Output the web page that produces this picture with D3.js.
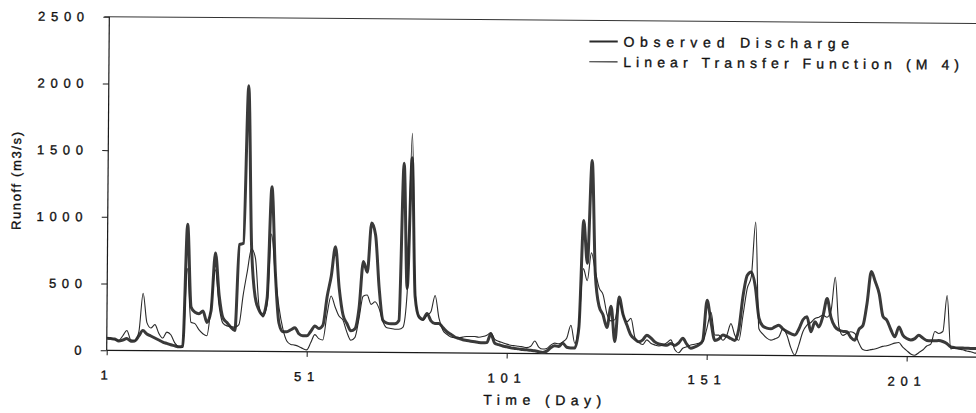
<!DOCTYPE html>
<html>
<head>
<meta charset="utf-8">
<script src="https://cdn.jsdelivr.net/npm/d3@7"></script>
<style>
  html, body { margin: 0; padding: 0; background: #fff; }
  svg { display: block; }
  text { font-family: "Liberation Sans", Arial, sans-serif; fill: #111; stroke: #111; stroke-width: 0.35px; }
</style>
</head>
<body>
<svg id="chart" width="976" height="413"></svg>
<script>
// Daily runoff, days 1..219 (m3/s)
const observedDischarge = [
  90, 88, 85, 70, 78, 90, 70, 72, 110, 150,
  125, 110, 95, 80, 65, 55, 45, 38, 30, 35,
  950, 330, 290, 280, 300, 215, 300, 735, 420, 250,
  215, 180, 155, 800, 810, 1990, 800, 410, 310, 275,
  400, 1235, 600, 215, 150, 150, 165, 180, 135, 120,
  120, 155, 195, 175, 200, 415, 570, 790, 480, 280,
  215, 160, 175, 330, 680, 600, 970, 880, 480, 240,
  220, 215, 215, 240, 1420, 480, 1460, 420, 270, 250,
  295, 240, 220, 220, 190, 160, 140, 120, 110, 100,
  95, 90, 85, 80, 78, 80, 145, 75, 65, 55,
  50, 42, 38, 35, 30, 28, 25, 22, 15, 10,
  20, 45, 60, 55, 80, 50, 45, 45, 200, 1000,
  680, 1450, 600, 360, 295, 200, 360, 95, 430, 300,
  220, 145, 115, 95, 110, 145, 125, 95, 80, 75,
  70, 85, 70, 90, 124, 80, 50, 60, 75, 110,
  410, 250, 110, 120, 150, 140, 125, 110, 200, 450,
  600, 625, 520, 280, 220, 205, 200, 215, 228, 200,
  180, 165, 155, 200, 270, 292, 180, 255, 217, 300,
  430, 290, 220, 195, 185, 182, 140, 120, 200, 230,
  400, 635, 560, 470, 300, 270, 200, 147, 222, 160,
  135, 125, 135, 160, 140, 122, 120, 120, 122, 115,
  100, 75, 70, 68, 67, 66, 65, 65, 65
];

const linearTransferM4 = [
  95, 90, 80, 75, 110, 150, 80, 75, 140, 430,
  210, 170, 195, 130, 95, 140, 120, 60, 30, 25,
  620, 215, 205, 160, 130, 115, 330, 610, 340, 210,
  190, 185, 180, 200, 420, 600, 770, 700, 340, 260,
  350, 880, 570, 330, 170, 80, 55, 50, 40, 25,
  15, 70, 130, 100, 90, 280, 420, 340, 270, 240,
  150, 90, 110, 250, 420, 430, 360, 380, 330, 230,
  185, 180, 175, 175, 190, 450, 1645, 460, 260, 245,
  280, 310, 430, 260, 170, 140, 120, 115, 115, 120,
  125, 125, 125, 120, 125, 135, 155, 105, 90, 80,
  70, 62, 58, 55, 50, 45, 55, 95, 50, 35,
  40, 65, 80, 75, 90, 120, 215, 80, 230, 640,
  550, 760, 620, 495, 445, 300, 250, 260, 395, 300,
  245, 270, 130, 90, 75, 110, 85, 73, 65, 70,
  90, 111, 40, 15, 49, 60, 74, 80, 87, 100,
  200, 320, 150, 150, 112, 150, 237, 150, 112, 300,
  500, 590, 1000, 200, 160, 130, 115, 125, 140, 200,
  155, 60, 5, 80, 180, 230, 250, 280, 290, 305,
  290, 340, 590, 220, 155, 170, 183, 170, 100, 50,
  43, 50, 55, 65, 75, 80, 90, 100, 105, 70,
  45, 20, 10, 30, 50, 80, 95, 190, 175, 190,
  460, 60, 70, 60, 55, 45, 40, 30, 30
];

const xTickValues = [1, 51, 101, 151, 201];
const yTickValues = [0, 500, 1000, 1500, 2000, 2500];
const legendLabels = ["Observed Discharge", "Linear Transfer Function (M 4)"];
const xTitle = "Time (Day)";
const yTitle = "Runoff (m3/s)";

// plot frame
const x0 = 106.7, yBottom = 350.3, yTop = 16.7;
const x = d3.scaleLinear().domain([1, 220]).range([x0, x0 + 4 * 219]);
const y = d3.scaleLinear().domain([0, 2500]).range([yBottom, yTop]);

const svg = d3.select("#chart");
// whole figure sits slightly tilted
const g = svg.append("g").attr("transform", `rotate(0.45, ${x0}, ${yBottom})`);

const ink = "#1a1a1a";

// y axis
const yAxis = g.append("g")
  .attr("transform", `translate(${x0},0)`)
  .call(d3.axisLeft(y).tickValues(yTickValues).tickSize(6).tickPadding(13.5).tickFormat(d3.format("d")));
yAxis.select(".domain").remove();
yAxis.selectAll(".tick line").attr("stroke", ink);
yAxis.selectAll(".tick text")
  .attr("font-size", 13).style("letter-spacing", "5.7px").attr("fill", "#111");

// x axis
const xAxis = g.append("g")
  .attr("transform", `translate(0,${yBottom})`)
  .call(d3.axisBottom(x).tickValues(xTickValues).tickSize(5).tickPadding(15).tickFormat(d3.format("d")));
xAxis.select(".domain").remove();
xAxis.selectAll(".tick line").attr("stroke", ink);
xAxis.selectAll(".tick text")
  .attr("font-size", 13).style("letter-spacing", "5.7px").attr("fill", "#111");

// frame lines: left axis, bottom axis, top border
g.append("line").attr("x1", x0).attr("x2", x0).attr("y1", y(0)).attr("y2", y(2500))
  .attr("stroke", ink).attr("stroke-width", 1.2);
g.append("line").attr("x1", x0).attr("x2", 1000).attr("y1", y(0)).attr("y2", y(0))
  .attr("stroke", ink).attr("stroke-width", 1.3);
g.append("line").attr("x1", x0 - 5).attr("x2", 1000).attr("y1", y(2500)).attr("y2", y(2500))
  .attr("stroke", "#333").attr("stroke-width", 1);

// series
const line = d3.line().curve(d3.curveMonotoneX).x((d, i) => x(i + 1)).y(d => y(d));
g.append("path").datum(observedDischarge)
  .attr("d", line).attr("fill", "none")
  .attr("stroke", "#3a3a3a").attr("stroke-width", 3).attr("stroke-linejoin", "round");
g.append("path").datum(linearTransferM4)
  .attr("d", line).attr("fill", "none")
  .attr("stroke", "#2a2a2a").attr("stroke-width", 1.1).attr("stroke-linejoin", "round");

// legend
const legendRows = [
  { label: legendLabels[0], y: 37.6, w: 2, len: 225.7 },
  { label: legendLabels[1], y: 57.9, w: 1.1, len: 335.7 }
];
legendRows.forEach(r => {
  g.append("line").attr("x1", 587).attr("x2", 615.3).attr("y1", r.y).attr("y2", r.y)
    .attr("stroke", "#2a2a2a").attr("stroke-width", r.w);
  g.append("text").attr("x", 621).attr("y", r.y + 5)
    .attr("font-size", 14).attr("textLength", r.len).attr("lengthAdjust", "spacing")
    .text(r.label);
});

// axis titles
g.append("text")
  .attr("x", 542.6).attr("y", 401.6)
  .attr("text-anchor", "middle").attr("font-size", 14)
  .attr("textLength", 118).attr("lengthAdjust", "spacing")
  .text(xTitle);
g.append("text")
  .attr("transform", "translate(19.5,181.7) rotate(-90)")
  .attr("text-anchor", "middle").attr("font-size", 13)
  .attr("textLength", 98).attr("lengthAdjust", "spacing")
  .text(yTitle);
</script>
</body>
</html>
